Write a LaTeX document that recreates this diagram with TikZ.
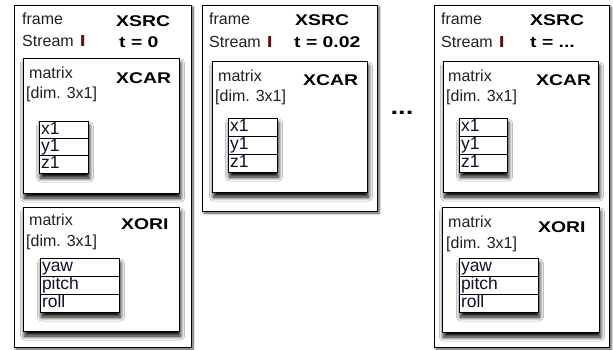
\documentclass[tikz,border=0pt]{standalone}
\usepackage{fontspec}
\setmainfont{Liberation Sans}
\usetikzlibrary{shadows.blur}
\definecolor{labelc}{RGB}{38,30,28}
\definecolor{numc}{RGB}{85,22,12}
\definecolor{cellc}{RGB}{15,15,45}
\tikzset{
  outerbox/.style={draw, line width=1pt, fill=white, anchor=north west, inner sep=0pt, outer sep=0pt,
    blur shadow={shadow xshift=2pt, shadow yshift=-2pt, shadow blur radius=2.5pt, shadow opacity=70, shadow blur steps=6}},
  innerbox/.style={draw, line width=1pt, fill=white, anchor=north west, inner sep=0pt, outer sep=0pt,
    blur shadow={shadow xshift=1.5pt, shadow yshift=-5pt, shadow blur radius=4pt, shadow opacity=100, shadow blur steps=8}},
  cellbox/.style={draw, line width=0.9pt, fill=white, anchor=north west, inner xsep=2pt, inner ysep=0pt,
    outer sep=0pt, text height=13pt, text depth=4pt, align=left, text=cellc,
    font=\fontsize{17.5}{19}\selectfont},
  tabshadow/.style={blur shadow={shadow xshift=1.5pt, shadow yshift=-5pt, shadow blur radius=4pt, shadow opacity=100, shadow blur steps=8}},
  lbl/.style={anchor=base west, inner sep=0pt, text=labelc, font=\fontsize{16}{18}\selectfont},
  big/.style={anchor=base west, inner sep=0pt, text=black, font=\fontsize{15.5}{17}\selectfont\bfseries},
}
\newcommand\wide[1]{\scalebox{1.25}[1]{#1}}
\newcommand\strm{Stream\hspace{6pt}\textcolor{numc}{\scalebox{1.3}[1]{\textbf{I}}}}
\begin{document}
\begin{tikzpicture}[x=1pt,y=-1pt]
\useasboundingbox (0,0) rectangle (613,349);

% ---------------- Frame 1 ----------------
\node[outerbox, minimum width=177pt, minimum height=342pt] (F1) at (14,5) {};
\node[lbl] (F1frame) at (22,24) {frame};
\node[lbl] (F1stream) at (22,46) {\strm};
\node[big] (F1src) at (116,26) {\wide{XSRC}};
\node[big] (F1t) at (119,47) {\wide{t = 0}};

\node[innerbox, minimum width=156pt, minimum height=135pt] (A1) at (23,58) {};
\node[lbl] (A1m) at (29,78) {matrix};
\node[lbl] (A1d) at (26,98) {[dim. 3x1]};
\node[big] (A1n) at (116,83) {\wide{XCAR}};
\node[cellbox, tabshadow, minimum width=49pt, minimum height=52pt] (A1t) at (39,121) {};
\node[cellbox, minimum width=49pt, minimum height=17.33pt, text width=45pt] (A1a) at (39,121) {x1};
\node[cellbox, minimum width=49pt, minimum height=17.33pt, text width=45pt] (A1b) at (A1a.south west) {y1};
\node[cellbox, minimum width=49pt, minimum height=17.33pt, text width=45pt] (A1c) at (A1b.south west) {z1};

\node[innerbox, minimum width=156pt, minimum height=124pt] (B1) at (23,207) {};
\node[lbl] (B1m) at (29,225) {matrix};
\node[lbl] (B1d) at (26,246) {[dim. 3x1]};
\node[big] (B1n) at (121,229) {\wide{XORI}};
\node[cellbox, tabshadow, minimum width=79pt, minimum height=54pt] (B1t) at (40,258) {};
\node[cellbox, minimum width=79pt, minimum height=18pt, text width=75pt] (B1a) at (40,258) {yaw};
\node[cellbox, minimum width=79pt, minimum height=18pt, text width=75pt] (B1b) at (B1a.south west) {pitch};
\node[cellbox, minimum width=79pt, minimum height=18pt, text width=75pt] (B1c) at (B1b.south west) {roll};

% ---------------- Frame 2 ----------------
\node[outerbox, minimum width=175pt, minimum height=206pt] (F2) at (202,5) {};
\node[lbl] (F2frame) at (209,24) {frame};
\node[lbl] (F2stream) at (209,47) {\strm};
\node[big] (F2src) at (295,25) {\wide{XSRC}};
\node[big] (F2t) at (294,47) {\wide{t = 0.02}};

\node[innerbox, minimum width=155pt, minimum height=131pt] (A2) at (212,61) {};
\node[lbl] (A2m) at (218,81) {matrix};
\node[lbl] (A2d) at (215,101) {[dim. 3x1]};
\node[big] (A2n) at (303,85) {\wide{XCAR}};
\node[cellbox, tabshadow, minimum width=49pt, minimum height=54pt] (A2t) at (228,118) {};
\node[cellbox, minimum width=49pt, minimum height=18pt, text width=45pt] (A2a) at (228,118) {x1};
\node[cellbox, minimum width=49pt, minimum height=18pt, text width=45pt] (A2b) at (A2a.south west) {y1};
\node[cellbox, minimum width=49pt, minimum height=18pt, text width=45pt] (A2c) at (A2b.south west) {z1};

% ---------------- dots ----------------
\node[inner sep=0pt, font=\fontsize{22}{24}\selectfont\bfseries] (dots) at (402,113) {\wide{...}};

% ---------------- Frame 3 ----------------
\node[outerbox, minimum width=175pt, minimum height=342pt] (F3) at (434,5) {};
\node[lbl] (F3frame) at (441,24) {frame};
\node[lbl] (F3stream) at (441,47) {\strm};
\node[big] (F3src) at (530,25) {\wide{XSRC}};
\node[big] (F3t) at (530,47) {\wide{t = ...}};

\node[innerbox, minimum width=155pt, minimum height=131pt] (A3) at (443,61) {};
\node[lbl] (A3m) at (448,81) {matrix};
\node[lbl] (A3d) at (446,101) {[dim. 3x1]};
\node[big] (A3n) at (536,85) {\wide{XCAR}};
\node[cellbox, tabshadow, minimum width=48pt, minimum height=54pt] (A3t) at (459,118) {};
\node[cellbox, minimum width=48pt, minimum height=18pt, text width=44pt] (A3a) at (459,118) {x1};
\node[cellbox, minimum width=48pt, minimum height=18pt, text width=44pt] (A3b) at (A3a.south west) {y1};
\node[cellbox, minimum width=48pt, minimum height=18pt, text width=44pt] (A3c) at (A3b.south west) {z1};

\node[innerbox, minimum width=157pt, minimum height=125pt] (B3) at (442,207) {};
\node[lbl] (B3m) at (448,227) {matrix};
\node[lbl] (B3d) at (446,248) {[dim. 3x1]};
\node[big] (B3n) at (538,232) {\wide{XORI}};
\node[cellbox, tabshadow, minimum width=79pt, minimum height=54pt] (B3t) at (459,258) {};
\node[cellbox, minimum width=79pt, minimum height=18pt, text width=75pt] (B3a) at (459,258) {yaw};
\node[cellbox, minimum width=79pt, minimum height=18pt, text width=75pt] (B3b) at (B3a.south west) {pitch};
\node[cellbox, minimum width=79pt, minimum height=18pt, text width=75pt] (B3c) at (B3b.south west) {roll};
\end{tikzpicture}
\end{document}
